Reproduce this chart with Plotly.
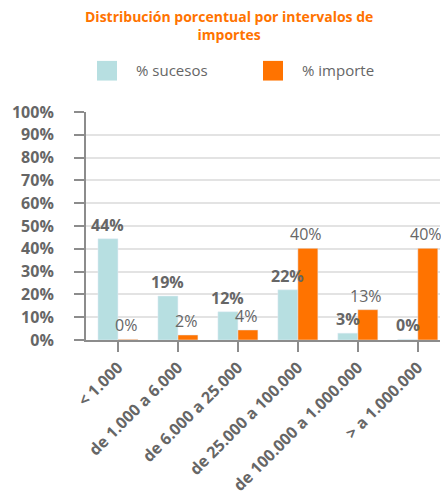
import plotly.graph_objects as go

categories = ["< 1.000", "de 1.000 a 6.000", "de 6.000 a 25.000",
              "de 25.000 a 100.000", "de 100.000 a 1.000.000", "> a 1.000.000"]
sucesos = [44.4, 19.3, 12.4, 22.0, 3.0, 0.3]
importe = [0.3, 2.2, 4.4, 40.2, 13.3, 40.2]
y_ticks = list(range(0, 101, 10))

CYAN = "#b7dfe1"
ORANGE = "#ff7300"
GRAY = "#666666"
FONT = "Open Sans"

L, R, T, B = 86, 1, 112, 153
W, H = 441, 497
PW, PH = W - L - R, H - T - B


def px2x(p):
    return (p - L) / PW


def py2y(p):
    return (H - B - p) / PH


fig = go.Figure()
fig.add_trace(go.Bar(x=categories, y=sucesos, name="% sucesos", marker_color=CYAN,
                     showlegend=False, hoverinfo="skip"))
fig.add_trace(go.Bar(x=categories, y=importe, name="% importe", marker_color=ORANGE,
                     showlegend=False, hoverinfo="skip"))

ann = []
for c, v in zip(categories, sucesos):
    ann.append(dict(x=c, y=v, text=f"{v:.0f}%", showarrow=False, xshift=-10, yshift=1,
                    yanchor="bottom", font=dict(family=FONT, size=16, color=GRAY, weight="bold")))
for c, v in zip(categories, importe):
    ann.append(dict(x=c, y=v, text=f"{v:.0f}%", showarrow=False, xshift=8, yshift=1,
                    yanchor="bottom", font=dict(family=FONT, size=16, color=GRAY)))

# title
ann.append(dict(xref="paper", yref="paper", x=px2x(229), y=py2y(3), xanchor="center", yanchor="top",
                text="Distribución porcentual por intervalos de<br>importes", showarrow=False,
                font=dict(family=FONT, size=14, color=ORANGE, weight="bold")))

# legend (drawn manually to match square sizes)
ann.append(dict(xref="paper", yref="paper", x=px2x(134), y=py2y(69), text="% sucesos",
                showarrow=False, xanchor="left", yanchor="middle",
                font=dict(family=FONT, size=15, color=GRAY)))
ann.append(dict(xref="paper", yref="paper", x=px2x(300), y=py2y(69), text="% importe",
                showarrow=False, xanchor="left", yanchor="middle",
                font=dict(family=FONT, size=15, color=GRAY)))

shapes = [
    dict(type="rect", xref="paper", yref="paper", x0=px2x(97), x1=px2x(117), y0=py2y(80), y1=py2y(60),
         fillcolor=CYAN, line=dict(width=0)),
    dict(type="rect", xref="paper", yref="paper", x0=px2x(263), x1=px2x(283), y0=py2y(80), y1=py2y(60),
         fillcolor=ORANGE, line=dict(width=0)),
]

fig.update_layout(
    width=W, height=H,
    margin=dict(l=L, r=R, t=T, b=B),
    paper_bgcolor="white", plot_bgcolor="white",
    barmode="group", bargap=0.333, bargroupgap=0,
    annotations=ann, shapes=shapes,
    showlegend=False, hovermode=False,
    font=dict(family=FONT, color=GRAY),
)
fig.update_xaxes(range=[-0.533, 5.37], showline=True, linecolor="#8c8c8c", linewidth=2,
                 ticks="outside", ticklen=10, tickcolor="#8c8c8c", tickwidth=2,
                 tickangle=-45, tickfont=dict(family=FONT, size=16, color=GRAY, weight="bold"),
                 showgrid=False)
fig.update_yaxes(range=[0, 100], tickvals=y_ticks, ticktext=[f"{t}%" for t in y_ticks],
                 showline=True, linecolor="#8c8c8c", linewidth=2,
                 ticks="outside", ticklen=10, tickcolor="#8c8c8c", tickwidth=2,
                 ticklabelstandoff=17,
                 showgrid=True, gridcolor="#e3e3e3", gridwidth=2, zeroline=False,
                 tickfont=dict(family=FONT, size=16, color=GRAY, weight="bold"))

fig.write_html("out.html", config={"displayModeBar": False},
               post_script="document.body.style.margin='0';")
